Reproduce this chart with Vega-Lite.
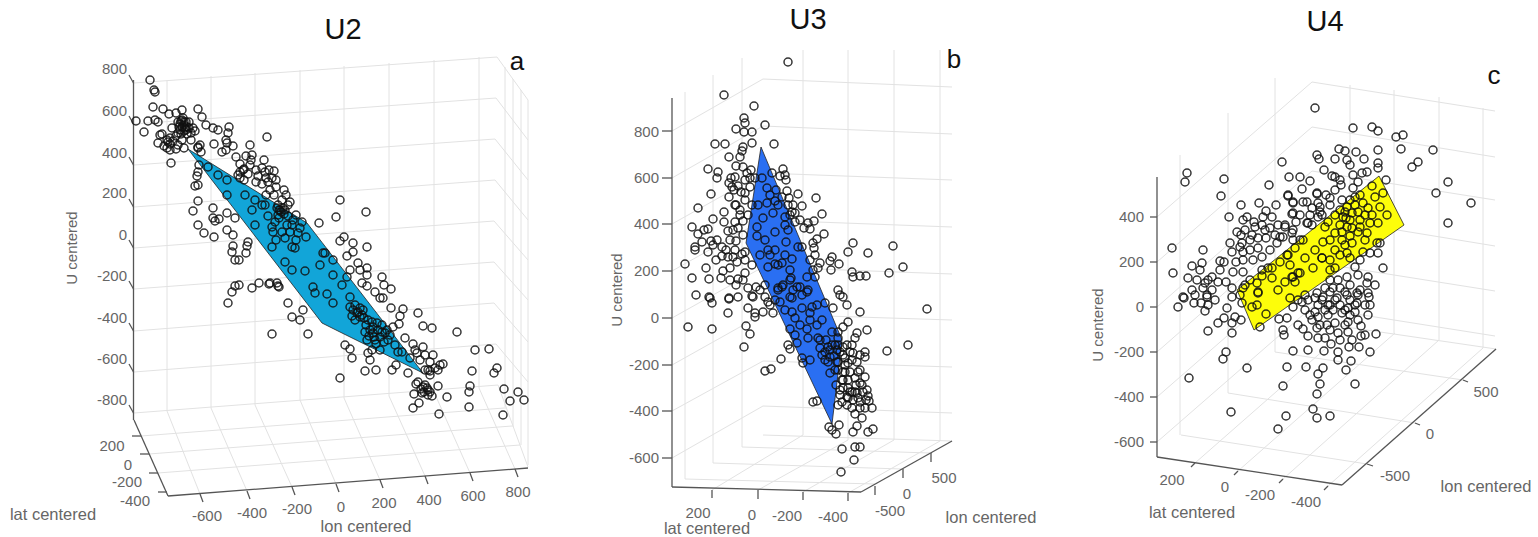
{"$schema":"https://vega.github.io/schema/vega-lite/v6.json","width":1538,"height":537,"autosize":{"type":"none"},"padding":0,"background":"white","config":{"view":{"stroke":null},"scale":{}},
"datasets":{
"grid":[
[134,83,497,57],[134,124,496,98],[134,165,495,139],[134,207,495,180],[134,248,494,221],[134,289,494,262],[134,331,494,303],[134,372,496,344],[134,413,498,385],
[497,57,528,100],[496,98,528,140],[495,139,528,180],[495,180,528,220],[494,221,528,260],[494,262,528,300],[494,303,528,342],[496,344,528,382],[498,385,528,467],
[167,80,167,411],[211,76,211,408],[255,73,255,405],[300,70,300,400],[344,66,344,398],[389,63,389,396],[434,60,434,392],[479,57,479,388],
[505,67,505,409],[513,79,513,427],[521,90,521,445],[528,100,528,465],
[167,411,200,494],[211,408,247,491],[255,405,292,487],[300,400,336,484],[344,398,380,480],[389,396,425,476],[434,392,470,473],[479,388,515,469],
[141,436,504,408],[149,454,512,426],[158,473,520,445],
[672,131,763,79],[672,178,763,126],[672,224,763,173],[672,271,763,220],[672,318,763,267],[672,365,763,314],[672,411,763,361],[672,458,763,406],
[763,79,952,87],[763,126,952,134],[763,173,952,180],[763,220,952,227],[763,267,952,274],[763,314,952,320],[763,361,952,367],[763,406,952,413],
[685,92,685,479],[713,75,713,463],[742,58,742,447],[803,50,803,435],[848,50,848,440],[894,50,894,440],[940,50,940,441],
[803,435,712,490],[848,440,758,490],[894,440,803,492],[940,441,848,493],
[685,479,875,484],[713,463,902,469],[742,447,930,453],[763,435,952,441],
[1157,217,1312,82],[1157,262,1312,127],[1157,307,1312,171],[1157,352,1312,216],[1157,397,1312,262],[1157,442,1312,307],
[1312,82,1495,111],[1312,127,1495,157],[1312,171,1495,200],[1312,216,1495,246],[1312,262,1495,291],[1312,307,1495,336],
[1180,155,1180,435],[1228,113,1228,393],[1275,78,1275,352],[1350,85,1350,327],[1394,90,1394,333],[1439,97,1439,340],[1483,108,1483,348],
[1350,327,1195,463],[1395,333,1238,471],[1439,340,1283,479],[1483,348,1328,486],
[1181,435,1367,464],[1228,393,1415,423],[1275,352,1463,380],[1312,322,1496,349]
],
"axes":[
[133.5,80,133.5,420],[134,420,168,496],[168,496,528,468],
[129,75,133.5,83],[129,116,133.5,124],[129,157,133.5,165],[129,199,133.5,207],[129,240,133.5,248],[129,281,133.5,289],[129,323,133.5,331],[129,364,133.5,372],[129,405,133.5,413],
[132,436,141,436],[140,454,149,454],[149,473,158,473],[158,492,167,492],
[200,494,203,502],[247,491,250,499],[292,487,295,495],[336,484,339,492],[380,480,383,488],[425,476,428,484],[470,473,473,481],[515,469,518,477],
[672,98,672,487],[672,487,861,492],[861,492,952,441],
[662,131,672,131],[662,178,672,178],[662,224,672,224],[662,271,672,271],[662,318,672,318],[662,365,672,365],[662,411,672,411],[662,458,672,458],
[712,490,712,498],[758,490,758,499],[803,492,803,500],[848,493,848,501],[875,486,875,495],[903,469,903,478],[931,453,931,462],
[1157,177,1157,457],[1157,457,1342,485],[1342,485,1496,349],
[1150,217,1157,217],[1150,262,1157,262],[1150,307,1157,307],[1150,352,1157,352],[1150,397,1157,397],[1150,442,1157,442],
[1195,463,1191,467],[1238,471,1234,475],[1283,479,1279,483],[1328,486,1324,490],[1367,464,1373,466],[1415,423,1420,425],[1463,380,1468,382]
],
"polys":[
{"panel":"U2","h":188,"top":149,"bottom":149},{"panel":"U2","h":307,"top":223,"bottom":303.5},{"panel":"U2","h":322,"top":242.4,"bottom":323},{"panel":"U2","h":340,"top":265.7,"bottom":332},{"panel":"U2","h":423,"top":373,"bottom":373},
{"panel":"U3","h":746,"top":243,"bottom":243},{"panel":"U3","h":761,"top":147,"bottom":274.6},{"panel":"U3","h":832,"top":316,"bottom":424},{"panel":"U3","h":842,"top":340,"bottom":340},
{"panel":"U4","h":1237,"top":290,"bottom":290},{"panel":"U4","h":1254,"top":276.4,"bottom":330},{"panel":"U4","h":1379,"top":176,"bottom":242.5},{"panel":"U4","h":1404,"top":225,"bottom":225}
],
"uLabels":[["800",69,127],["600",111,127],["400",153,127],["200",193,127],["0",235,127],["-200",276,127],["-400",318,127],["-600",359,127],["-800",400,127],
["800",132,659],["600",178,659],["400",224,659],["200",271,659],["0",318,659],["-200",365,659],["-400",411,659],["-600",458,659],
["400",217,1144],["200",262,1144],["0",307,1144],["-200",352,1144],["-400",397,1144],["-600",442,1144]],
"ticks":[["200",112,446],["0",128,465],["-200",127,482],["-400",135,501],["-600",207,516],["-400",252,513],["-200",297,509],["0",341,507],["200",384,503],["400",429,500],["600",473,496],["800",518,492],
["200",698,513],["0",752,515],["-200",787,516],["-400",833,517],["-500",890,511],["0",907,494],["500",944,478],
["200",1172,480],["0",1225,487],["-200",1260,495],["-400",1306,502],["-500",1395,476],["0",1430,434],["500",1486,392]],
"names":[["lat centered",53,515],["lon centered",366,527],["lat centered",707,529],["lon centered",991,518],["lat centered",1192,513],["lon centered",1486,487]],
"unames":[["U centered",72,248],["U centered",617,290],["U centered",1098,325]],
"titles":[["U2",343,30],["U3",808,20],["U4",1325,22]],
"letters":[["a",517,62],["b",954,60],["c",1494,76]],
"pts":[
[150,80],[154,90],[155,92],[153,107],[163,109],[136,121],[148,121],[144,132],[155,120],[158,122],[169,114],[176,113],[182,110],[198,109],[202,117],[189,122],[178,122],[172,128],[182,120],[184,125],[186,130],[180,130],[187,134],[195,131],[206,125],[213,128],[218,130],[229,127],[228,133],[226,140],[160,135],[162,134],[158,143],[168,142],[170,144],[167,148],[178,145],[184,148],[182,140],[191,140],[198,148],[200,145],[214,144],[222,152],[227,143],[226,150],[233,146],[250,145],[267,137],[236,157],[246,156],[251,160],[244,169],[252,155],[240,164],[240,172],[264,160],[238,175],[244,180],[248,174],[256,170],[265,172],[269,170],[274,171],[266,178],[268,182],[276,187],[286,195],[282,200],[278,205],[171,163],[198,147],[201,152],[199,165],[198,172],[197,176],[198,185],[195,186],[198,201],[193,211],[213,208],[213,218],[215,221],[219,219],[227,213],[235,218],[198,225],[204,233],[214,237],[227,230],[233,235],[248,242],[233,246],[232,252],[235,260],[247,246],[246,253],[239,260],[274,195],[180,124],[183,118],[185,128],[178,133],[208,167],[218,175],[227,180],[227,195],[245,195],[255,200],[265,205],[285,210],[255,225],[272,227],[285,238],[292,225],[295,248],[285,262],[272,247],[293,220],[279,210],[290,202],[278,215],[283,208],
[319,223],[336,217],[366,212],[340,200],[298,233],[292,247],[273,232],[280,210],[287,225],[302,222],[340,241],[344,237],[353,243],[353,252],[367,247],[347,256],[325,253],[333,260],[320,265],[333,275],[358,263],[350,270],[360,270],[367,268],[367,275],[362,283],[367,286],[382,277],[384,285],[391,289],[375,292],[380,298],[383,298],[391,308],[403,309],[400,316],[418,313],[399,324],[423,326],[432,328],[457,332],[475,350],[489,349],[497,368],[494,373],[472,371],[504,389],[518,392],[524,400],[510,401],[503,415],[470,386],[469,392],[469,407],[447,397],[439,414],[413,408],[419,403],[414,394],[416,384],[438,386],[432,396],[427,388],[422,393],[428,390],[423,387],[418,382],[430,371],[440,365],[433,355],[423,347],[413,344],[417,353],[405,338],[393,327],[408,373],[396,365],[392,370],[376,370],[365,371],[370,360],[368,353],[352,358],[350,349],[345,345],[340,378],[308,334],[272,334],[288,303],[292,317],[300,320],[303,310],[278,286],[270,283],
[292,270],[305,271],[313,287],[315,293],[327,294],[333,303],[350,297],[342,285],[347,277],[323,253],[357,313],[352,316],[360,308],[364,318],[370,330],[377,323],[385,333],[398,352],[367,340],[360,317],[363,310],[373,333],[380,337],[387,330],[373,327],[350,307],[353,310],[366,325],[375,340],[382,325],
[228,303],[232,292],[235,286],[239,285],[252,288],[259,283],[269,284],[277,283],[279,287],
[181,121],[184,122],[186,122],[182,127],[187,127],[179,127],[184,131],[181,134],[176,136],[170,138],[173,141],[167,140],[176,149],[170,150],[164,146],[189,128],[191,133],[193,128],[262,168],[258,176],[243,170],[240,178],[250,165],[256,182],[262,184],[272,178],[270,190],[266,195],[276,180],[284,190],[288,205],[281,212],[277,208],[284,214],[279,218],[288,216],[275,222],[268,216],[262,205],[252,210],[296,215],[300,228],[306,237],[296,240],[290,232],[282,232],[276,240],[355,305],[358,312],[355,320],[362,315],[368,320],[372,322],[365,332],[369,336],[374,337],[378,330],[382,332],[376,344],[384,342],[388,340],[390,335],[380,350],[372,350],[395,345],[402,352],[410,358],[415,350],[420,360],[425,355],[430,362],[435,368],[428,370],[438,370],[425,370],[430,375],[443,364],[425,385],[430,392],[424,392],[428,395],[421,389],
[788,62],[724,95],[754,106],[744,118],[745,123],[765,125],[736,129],[744,132],[752,132],[715,144],[725,144],[743,147],[752,143],[774,144],[742,151],[729,157],[740,157],[708,169],[718,172],[717,178],[736,166],[743,167],[751,170],[747,173],[783,169],[772,173],[755,178],[762,178],[780,176],[785,175],[735,177],[729,183],[732,187],[734,190],[745,193],[711,194],[729,197],[745,200],[750,187],[767,188],[787,191],[798,194],[816,198],[789,198],[775,201],[767,203],[758,205],[736,205],[698,208],[793,205],[802,206],[724,212],[740,210],[773,213],[822,214],[713,219],[724,222],[735,222],[763,218],[785,217],[795,213],[800,220],[808,223],[814,221],[692,227],[708,229],[704,230],[698,234],[728,231],[733,230],[743,221],[757,227],[785,225],[810,229],[824,234],[775,232],[788,230],[757,236],[817,239],[702,242],[711,241],[717,240],[736,241],[765,240],[786,242],[813,243],[695,247],[695,250],[713,245],[722,247],[708,252],[798,247],[802,247],[814,248],[853,243],[848,252],[868,253],[893,246],[722,256],[733,257],[742,254],[760,255],[832,257],[685,264],[716,260],[745,260],[728,257],[792,259],[820,263],[830,261],[839,264],[706,268],[730,268],[768,267],[775,264],[782,263],[818,268],[831,270],[903,267],[723,271],[745,273],[852,272],[853,277],[860,276],[866,276],[889,273],[692,278],[709,279],[721,278],[738,279],[743,280],[791,278],[807,277],[815,277],[756,287],[778,288],[783,285],[793,290],[800,287],[808,290],[838,290],[696,295],[709,297],[729,298],[738,297],[752,296],[765,297],[840,295],[790,297],[802,295],
[927,309],[860,312],[847,305],[843,297],[833,308],[728,313],[712,303],[710,298],[729,299],[753,297],[748,308],[755,313],[755,317],[763,312],[768,302],[773,313],[688,327],[712,329],[746,326],[750,334],[744,347],[867,330],[848,322],[843,327],[857,333],[855,338],[908,345],[887,351],[788,345],[790,349],[781,359],[771,369],[765,371],[813,402],[817,401],[829,427],[832,430],[839,425],[836,434],[853,432],[857,426],[862,418],[868,432],[873,429],[842,449],[855,447],[860,447],[854,460],[841,472],[855,414],[872,408],[865,408],[860,408],[869,401],[847,405],[838,405],[853,400],[847,397],[840,395],[848,388],[857,393],[863,392],[867,390],[860,383],[865,377],[843,380],[858,372],[845,372],[865,357],[865,352],[857,362],[848,363],[843,355],[850,352],[847,345],[843,347],[853,353],[860,370],[852,392],
[790,280],[782,287],[797,287],[778,290],[807,292],[792,298],[780,302],[802,308],[792,312],[817,305],[825,303],[812,307],[810,313],[822,320],[817,325],[790,329],[807,329],[832,332],[838,338],[795,335],[808,338],[818,338],[797,343],[820,348],[828,347],[837,350],[830,357],[825,360],[837,362],[802,358],[810,360],[835,370],[830,373],[843,372],[842,380],[803,363],
[838,345],[840,352],[852,345],[845,358],[838,362],[852,360],[860,355],[845,365],[838,370],[850,372],[855,378],[848,380],[862,385],[856,385],[850,392],[843,388],[848,398],[858,398],[866,400],[842,402],[852,408],[860,402],[855,392],[868,396],[836,385],[840,390],[826,340],[832,345],[820,340],[825,352],[830,350],[834,356],[822,355],[828,362],[835,345],[838,332],[745,180],[750,178],[738,186],[741,192],[731,178],[735,205],[740,215],[748,215],[752,205],[778,205],[782,197],[788,205],[792,212],[770,195],[776,190],[786,180],[790,215],[795,222],[804,228],[743,235],[738,228],[730,240],[726,250],[735,250],[737,262],[745,252],[752,265],[815,255],[810,260],[813,270],[730,280],[736,285],[748,288],[760,290],[765,285],[775,300],[770,305],[785,310],[795,318],[800,325],[810,320],[770,255],[775,250],[785,255],[768,250],[778,265],[790,270],
[1315,108],[1317,155],[1319,159],[1324,170],[1282,162],[1187,173],[1185,182],[1224,179],[1221,196],[1269,185],[1289,177],[1300,177],[1310,181],[1302,189],[1288,196],[1317,194],[1241,205],[1259,203],[1276,205],[1266,211],[1293,203],[1307,202],[1292,214],[1320,207],[1229,217],[1243,220],[1247,217],[1272,217],[1263,217],[1308,223],[1318,217],[1255,227],[1265,230],[1278,225],[1285,225],[1293,230],[1172,248],[1173,273],[1203,250],[1202,263],[1192,266],[1230,243],[1241,235],[1242,243],[1252,235],[1258,248],[1277,243],[1232,252],[1243,252],[1220,261],[1224,262],[1243,260],[1253,260],[1262,257],[1270,250],[1283,237],[1293,240],[1300,240],[1288,255],[1233,272],[1268,268],[1262,270],[1188,278],[1197,280],[1212,277],[1208,280],[1218,282],[1226,282],[1203,288],[1192,290],[1183,297],[1232,288],[1207,297],[1243,288],[1258,292],[1278,290],[1295,282],[1285,282],[1313,268],[1322,258],[1300,273],[1293,277],[1272,278],[1257,283],
[1353,128],[1372,127],[1378,131],[1396,137],[1403,135],[1401,149],[1433,150],[1378,150],[1356,152],[1339,149],[1345,151],[1335,159],[1347,160],[1364,159],[1378,163],[1378,168],[1350,165],[1418,162],[1412,167],[1367,172],[1362,173],[1353,175],[1332,176],[1335,177],[1340,180],[1341,185],[1358,182],[1386,180],[1448,182],[1436,193],[1471,203],[1448,223],[1353,188],[1383,268],
[1372,186],[1383,193],[1375,197],[1360,195],[1355,197],[1363,203],[1380,207],[1368,208],[1347,207],[1352,213],[1343,217],[1360,220],[1335,215],[1387,215],[1378,223],[1370,223],[1325,227],[1340,225],[1347,227],[1360,227],[1335,233],[1367,233],[1352,243],[1342,240],[1323,242],[1303,240],[1295,248],[1287,255],[1335,250],[1347,253],[1322,258],[1335,268],[1330,270],[1298,273],[1292,277],
[1377,243],[1380,243],[1363,252],[1378,253],[1370,253],[1360,260],[1355,267],[1368,277],[1367,283],[1358,275],[1347,277],[1338,280],[1333,288],[1325,288],[1357,293],[1345,292],[1368,293],[1317,293],[1330,280],
[1288,195],[1293,202],[1303,202],[1318,203],[1330,198],[1317,193],[1293,213],[1312,208],[1320,212],[1307,223],[1285,227],[1280,237],[1292,233],[1342,200],
[1178,307],[1184,298],[1194,303],[1201,303],[1207,295],[1208,305],[1205,311],[1232,297],[1242,303],[1227,308],[1252,307],[1257,305],[1266,314],[1258,293],[1235,317],[1224,318],[1241,320],[1218,323],[1232,323],[1208,331],[1232,333],[1226,352],[1223,359],[1189,378],[1247,368],[1260,327],[1279,319],[1287,318],[1283,330],[1284,335],[1298,325],[1303,329],[1308,336],[1317,328],[1318,338],[1325,338],[1331,344],[1293,351],[1308,350],[1324,351],[1338,352],[1349,347],[1359,347],[1370,352],[1338,360],[1351,361],[1346,370],[1287,367],[1306,367],[1323,368],[1318,374],[1320,384],[1355,384],[1283,386],[1317,394],[1231,412],[1286,416],[1313,409],[1330,416],[1317,418],[1278,429],[1376,334],[1365,335],[1361,336],[1361,326],[1348,332],[1348,322],[1335,323],[1327,325],[1310,315],[1318,317],[1328,315],[1342,313],[1348,308],[1365,305],[1369,297],[1358,295],[1350,300],[1337,298],[1328,305],[1318,305],[1308,300],[1302,302],[1293,307],[1347,295],[1333,310],[1323,297],[1357,303],
[1350,200],[1355,205],[1345,212],[1350,220],[1358,212],[1365,215],[1372,215],[1340,210],[1346,218],[1352,228],[1358,232],[1342,232],[1330,240],[1350,236],[1365,240],[1345,245],[1340,255],[1350,258],[1330,260],[1315,250],[1305,258],[1290,265],[1280,262],[1272,268],[1262,276],[1250,280],[1245,285],[1243,272],[1262,225],[1270,228],[1258,238],[1250,240],[1266,238],[1275,235],[1250,250],[1245,230],[1237,232],[1240,247],[1254,222],[1300,215],[1310,215],[1312,225],[1296,222],[1335,190],[1326,195],[1330,205],[1322,215],[1328,222],[1335,300],[1340,305],[1345,310],[1330,305],[1325,310],[1315,312],[1305,310],[1312,320],[1320,325],[1330,330],[1338,333],[1350,315],[1355,312],[1358,320],[1368,315],[1345,325],[1352,340],[1340,340],[1322,300],[1315,298],[1330,292],[1340,288],[1350,285],[1305,295],[1298,300],[1290,298],[1355,305],[1360,290],[1375,285],[1370,305],[1200,270],[1212,290],[1240,295],[1195,295],[1215,300],[1220,270],[1236,262],[1205,283]
]},
"layer":[
{"data":{"name":"grid"},"mark":{"type":"rule","stroke":"#e2e2e2","strokeWidth":1},"encoding":{"x":{"field":"0","type":"quantitative","scale":{"domain":[0,1538],"nice":false,"zero":false},"axis":null},"y":{"field":"1","type":"quantitative","scale":{"domain":[537,0],"nice":false,"zero":false},"axis":null},"x2":{"field":"2"},"y2":{"field":"3"}}},
{"data":{"name":"axes"},"mark":{"type":"rule","stroke":"#555555","strokeWidth":1.3},"encoding":{"x":{"field":"0","type":"quantitative"},"y":{"field":"1","type":"quantitative"},"x2":{"field":"2"},"y2":{"field":"3"}}},
{"data":{"name":"polys"},"mark":{"type":"area","stroke":"#222222","strokeWidth":0.8,"opacity":1},"encoding":{"x":{"field":"h","type":"quantitative"},"y":{"field":"top","type":"quantitative"},"y2":{"field":"bottom"},"color":{"field":"panel","type":"nominal","legend":null,"scale":{"domain":["U2","U3","U4"],"range":["#12a5d8","#2a6ff2","#fdfd0a"]}}}},
{"data":{"name":"pts"},"mark":{"type":"point","shape":"circle","filled":false,"stroke":"#111111","strokeWidth":1.5,"strokeOpacity":0.85,"opacity":1,"size":64},"encoding":{"x":{"field":"0","type":"quantitative"},"y":{"field":"1","type":"quantitative"}}},
{"data":{"name":"uLabels"},"mark":{"type":"text","font":"Liberation Sans","fontSize":15,"fill":"#666666","align":"right","baseline":"middle"},"encoding":{"x":{"field":"2","type":"quantitative"},"y":{"field":"1","type":"quantitative"},"text":{"field":"0"}}},
{"data":{"name":"ticks"},"mark":{"type":"text","font":"Liberation Sans","fontSize":15,"fill":"#666666","align":"center","baseline":"middle"},"encoding":{"x":{"field":"1","type":"quantitative"},"y":{"field":"2","type":"quantitative"},"text":{"field":"0"}}},
{"data":{"name":"names"},"mark":{"type":"text","font":"Liberation Sans","fontSize":16.5,"fill":"#666666","align":"center","baseline":"middle"},"encoding":{"x":{"field":"1","type":"quantitative"},"y":{"field":"2","type":"quantitative"},"text":{"field":"0"}}},
{"data":{"name":"unames"},"mark":{"type":"text","font":"Liberation Sans","fontSize":15,"fill":"#666666","align":"center","baseline":"middle","angle":270},"encoding":{"x":{"field":"1","type":"quantitative"},"y":{"field":"2","type":"quantitative"},"text":{"field":"0"}}},
{"data":{"name":"titles"},"mark":{"type":"text","font":"Liberation Sans","fontSize":29,"fill":"#111111","align":"center","baseline":"middle"},"encoding":{"x":{"field":"1","type":"quantitative"},"y":{"field":"2","type":"quantitative"},"text":{"field":"0"}}},
{"data":{"name":"letters"},"mark":{"type":"text","font":"Liberation Sans","fontSize":26,"fill":"#111111","align":"center","baseline":"middle"},"encoding":{"x":{"field":"1","type":"quantitative"},"y":{"field":"2","type":"quantitative"},"text":{"field":"0"}}}
]}
